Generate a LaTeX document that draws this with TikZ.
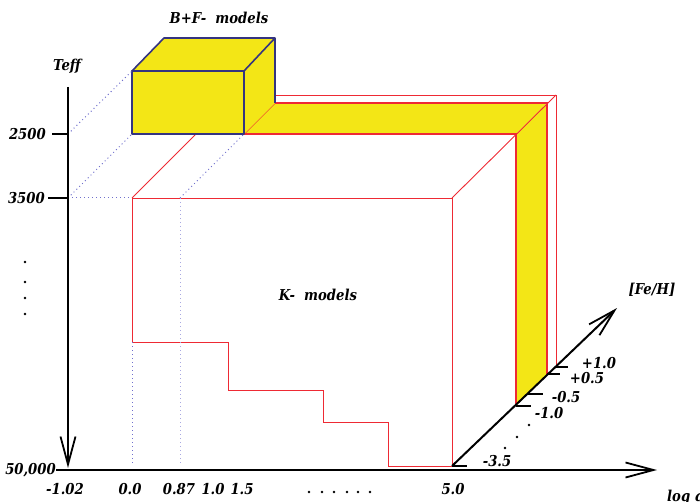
\documentclass[tikz,border=0pt]{standalone}
\usepackage{tikz}
\usepackage{fontspec}
\setmainfont[FakeStretch=0.88]{DejaVu Serif}
\usetikzlibrary{arrows.meta,positioning,calc}

\definecolor{bandyellow}{RGB}{243,230,22}
\definecolor{kred}{RGB}{238,42,52}
\definecolor{boxnavy}{RGB}{52,52,128}
\definecolor{dotblue}{RGB}{112,112,205}

\begin{document}
\begin{tikzpicture}[x=1pt, y=-1pt,
    lbl/.style={font=\fontsize{15}{17}\selectfont\bfseries\itshape, inner sep=0pt},
    axline/.style={line width=2.2pt, -{Straight Barb[length=28pt,width=15pt,line width=1.8pt]}},
    axtick/.style={line width=2.2pt},
    kline/.style={kred, line width=0.9pt},
    bandline/.style={kred, line width=1.3pt},
    boxline/.style={boxnavy, line width=1.6pt, line join=round},
    guide/.style={dotblue, line width=1pt, dash pattern=on 1pt off 3pt},
    dotmark/.style={circle, fill=black, inner sep=0pt, minimum size=2.8pt}]

    \useasboundingbox (0,0) rectangle (700,502);

    % corners of the K- block and the band behind it
    \coordinate (kTL) at (132,198);
    \coordinate (kTR) at (452,198);
    \coordinate (kBR) at (452,466);
    \coordinate (kBack) at (196,134);
    \coordinate (bandIn) at (516,134);
    \coordinate (bandOut) at (547,103);
    \coordinate (rimOut) at (556,95);
    \coordinate (bandInLow) at (516,406);
    \coordinate (bandOutLow) at (547,374);
    \coordinate (rimLow) at (556,367);

    % corners of the B+F- box
    \coordinate (bfA) at (132,71);
    \coordinate (bfB) at (244,71);
    \coordinate (bfC) at (244,134);
    \coordinate (bfD) at (132,134);
    \coordinate (bfE) at (164,38);
    \coordinate (bfF) at (275,38);
    \coordinate (bfG) at (275,103);
    \coordinate (rimStart) at (275,95);

    % yellow band
    \fill[bandyellow] (bfC) -- (bfG) -- (bandOut) -- (bandIn) -- cycle;
    \fill[bandyellow] (bandIn) -- (bandOut) -- (bandOutLow) -- (bandInLow) -- cycle;

    % red outlines
    \draw[bandline] (bfD) -- (bandIn) -- (bandInLow);
    \draw[bandline] (bfG) -- (bandOut) -- (bandOutLow);
    \draw[kline] (rimStart) -- (rimOut) -- (rimLow);
    \draw[kline] (kTR) -- (rimOut);
    \draw[kline] (kTL) -- (kBack);
    \draw[bandline] (bfC) -- (bfG);
    \draw[kline] (kTL) -- (kTR) -- (kBR);
    \draw[kline] (kTL) -- (132,342) -- (228,342) -- (228,390) -- (323,390)
        -- (323,422) -- (388,422) -- (388,466) -- (kBR);

    % B+F- box
    \fill[bandyellow] (bfA) -- (bfE) -- (bfF) -- (bfG) -- (bfC) -- (bfD) -- cycle;
    \draw[boxline] (bfA) rectangle (bfC);
    \draw[boxline] (bfA) -- (bfE) -- (bfF) -- (bfB);
    \draw[boxline] (bfF) -- (bfG);

    % guides
    \coordinate (g87) at (180,198);
    \draw[guide] (68,134) -- (bfA);
    \draw[guide] (68,198) -- (bfD);
    \draw[guide] (68,198) -- (kTL);
    \draw[guide] (g87) -- (bfC);
    \draw[guide, dotblue!60] (g87) -- (180,466);
    \draw[guide] (132,342) -- (132,466);

    % axes
    \coordinate (tTop) at (68,87);
    \coordinate (tEnd) at (68,468);
    \coordinate (gStart) at (56,470);
    \coordinate (gEnd) at (657,470);
    \coordinate (fEnd) at (617,308);
    \draw[axline] (tTop) -- (tEnd);
    \draw[axline] (gStart) -- (gEnd);
    \draw[axline, line width=2pt] (kBR) -- (fEnd);

    \draw[axtick] (52,134) -- (68,134);
    \draw[axtick] (48,198) -- (68,198);
    \draw[axtick] (452,466) -- (467,466);
    \draw[axtick] (516,406) -- (531,406);
    \draw[axtick] (527,394) -- (543,394);
    \draw[axtick] (547,374) -- (560,374);
    \draw[axtick] (555,367) -- (568,367);

    % labels
    \node[lbl] (bfLabel) at (219,18) {B+F-\ \ models};
    \node[lbl] (kLabel) at (318,295) {K-\ \ models};
    \node[lbl] (teffLabel) at (67,66) {Teff};
    \node[lbl, anchor=east] (t2500) at (46,134) {2500};
    \node[lbl, anchor=east] (t3500) at (45,198) {3500};
    \node[lbl, anchor=east] (t50000) at (56,470) {50,000};
    \node[lbl] (fehLabel) at (652,290) {[Fe/H]};
    \node[lbl, anchor=west] (loggLabel) at (667,497) {log g};

    \node[lbl] (g102) at (65,489) {-1.02};
    \node[lbl] (g00) at (130,489) {0.0};
    \node[lbl] (g087) at (179,489) {0.87};
    \node[lbl] (g10) at (213,489) {1.0};
    \node[lbl] (g15) at (242,489) {1.5};
    \node[lbl] (g50) at (453,489) {5.0};

    \node[lbl] (fp10) at (599,363) {+1.0};
    \node[lbl] (fp05) at (587,378) {+0.5};
    \node[lbl] (fm05) at (566,397) {-0.5};
    \node[lbl] (fm10) at (549,413) {-1.0};
    \node[lbl] (fm35) at (497,461) {-3.5};

    % dots
    \foreach \y in {262,282,298,314}
        \node[dotmark] at (25,\y) {};
    \foreach \x in {309,322,334,347,358,370}
        \node[dotmark] at (\x,492) {};
    \foreach \x/\y in {529/425,517/437,505/448}
        \node[dotmark] at (\x,\y) {};
\end{tikzpicture}
\end{document}
